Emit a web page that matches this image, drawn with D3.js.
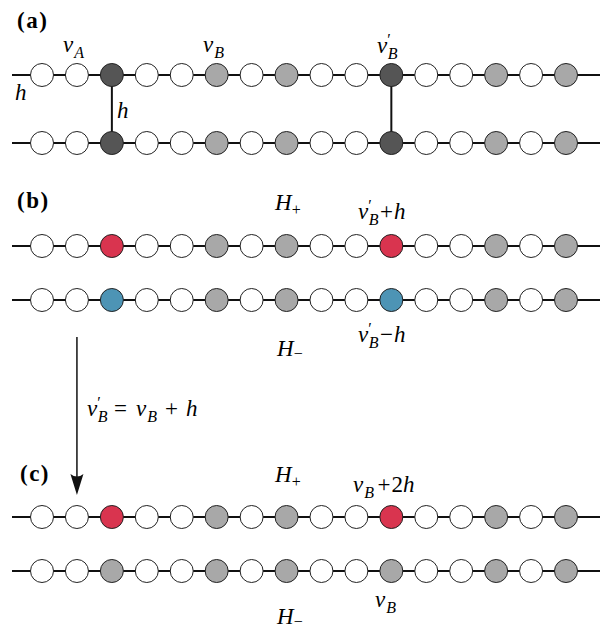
<!DOCTYPE html>
<html>
<head>
<meta charset="utf-8">
<script src="https://cdn.jsdelivr.net/npm/d3@7"></script>
<style>
  body { margin: 0; background: #fff; }
</style>
</head>
<body>
<div id="chart"></div>
<script>
// node states along each chain: w = empty, g = occupied, d = coupled, r = H+, b = H-
let rowA1 = ['w', 'w', 'd', 'w', 'w', 'g', 'w', 'g', 'w', 'w', 'd', 'w', 'w', 'g', 'w', 'g']
let rowA2 = ['w', 'w', 'd', 'w', 'w', 'g', 'w', 'g', 'w', 'w', 'd', 'w', 'w', 'g', 'w', 'g']
let rowB1 = ['w', 'w', 'r', 'w', 'w', 'g', 'w', 'g', 'w', 'w', 'r', 'w', 'w', 'g', 'w', 'g']
let rowB2 = ['w', 'w', 'b', 'w', 'w', 'g', 'w', 'g', 'w', 'w', 'b', 'w', 'w', 'g', 'w', 'g']
let rowC1 = ['w', 'w', 'r', 'w', 'w', 'g', 'w', 'g', 'w', 'w', 'r', 'w', 'w', 'g', 'w', 'g']
let rowC2 = ['w', 'w', 'g', 'w', 'w', 'g', 'w', 'g', 'w', 'w', 'g', 'w', 'w', 'g', 'w', 'g']

// vertical couplings in panel (a), by node index
let couplings = [2, 10]

let svgWidth = 600
let svgHeight = 631
let fontSize = 23
let subSize = 16

let svg = d3
  .select('#chart')
  .append('svg')
  .attr('width', svgWidth)
  .attr('height', svgHeight)
  .style('font-family', 'Liberation Serif')

let rows = [rowA1, rowA2, rowB1, rowB2, rowC1, rowC2]
let rowY = [75, 143, 246, 300, 517, 571]

let xPositionScale = d3.scaleLinear().domain([0, 15]).range([42, 566])

let colorScale = d3
  .scaleOrdinal()
  .domain(['w', 'g', 'd', 'r', 'b'])
  .range(['#ffffff', '#a8a8a8', '#555555', '#d9344f', '#4d94b5'])

// chain lines
svg
  .selectAll('.chain')
  .data(rows)
  .enter()
  .append('line')
  .attr('class', 'chain')
  .attr('x1', 12)
  .attr('x2', svgWidth)
  .attr('y1', (d, i) => rowY[i])
  .attr('y2', (d, i) => rowY[i])
  .attr('stroke', '#111')
  .attr('stroke-width', 2)

// couplings between the two chains of (a)
svg
  .selectAll('.coupling')
  .data(couplings)
  .enter()
  .append('line')
  .attr('class', 'coupling')
  .attr('x1', d => xPositionScale(d))
  .attr('x2', d => xPositionScale(d))
  .attr('y1', rowY[0])
  .attr('y2', rowY[1])
  .attr('stroke', '#111')
  .attr('stroke-width', 2)

// nodes
rows.forEach((row, i) => {
  svg
    .append('g')
    .selectAll('circle')
    .data(row)
    .enter()
    .append('circle')
    .attr('cx', (d, j) => xPositionScale(j))
    .attr('cy', rowY[i])
    .attr('r', 11.5)
    .attr('fill', d => colorScale(d))
    .attr('stroke', '#222')
    .attr('stroke-width', 1)
})

// arrow from (b) to (c)
let arrowX = xPositionScale(1)
svg
  .append('line')
  .attr('x1', arrowX)
  .attr('x2', arrowX)
  .attr('y1', 337)
  .attr('y2', 480)
  .attr('stroke', '#111')
  .attr('stroke-width', 1.5)
svg
  .append('path')
  .attr(
    'd',
    `M${arrowX},495 L${arrowX - 6.5},474 Q${arrowX},479 ${arrowX + 6.5},474 Z`
  )
  .attr('fill', '#111')

// math-ish labels built from tspans
// each part: [text, italic?, dx, dy, size]
function mathLabel(x, y, parts) {
  let t = svg
    .append('text')
    .attr('x', x)
    .attr('y', y)
    .style('font-family', 'Liberation Serif')
    .style('font-size', fontSize + 'px')
  parts.forEach(p => {
    t.append('tspan')
      .style('font-style', p[1] === 'i' ? 'italic' : 'normal')
      .style('font-size', (p[4] || fontSize) + 'px')
      .attr('dx', p[2] || 0)
      .attr('dy', p[3] || 0)
      .text(p[0])
  })
}

function panelLabel(x, y, s) {
  svg
    .append('text')
    .attr('x', x)
    .attr('y', y)
    .style('font-family', 'Liberation Serif')
    .style('font-size', '23px')
    .style('font-weight', 'bold')
    .style('letter-spacing', '1.5px')
    .text(s)
}

// v with subscript, optionally primed
function vSub(sub, prime) {
  if (prime) {
    return [
      ['v', 'i'],
      ['\u2032', 'r', 0, -8, subSize],
      ['B', 'i', -3, 14, subSize],
      [' ', 'r', -3, -6, 6]
    ]
  }
  return [
    ['v', 'i'],
    [sub, 'i', 1, 6, subSize],
    [' ', 'r', -1, -6, 6]
  ]
}

// (a)
panelLabel(17, 28, '(a)')
mathLabel(63, 52, vSub('A'))
mathLabel(203, 52, vSub('B'))
mathLabel(377, 53, vSub('B', true))
mathLabel(15, 100, [['h', 'i']])
mathLabel(117, 118, [['h', 'i']])

// (b)
panelLabel(17, 208, '(b)')
mathLabel(275, 210, [['H', 'i'], ['+', 'r', 0, 5, subSize]])
mathLabel(358, 219, vSub('B', true).concat([['+', 'r', 3], ['h', 'i', 1]]))
mathLabel(358, 342, vSub('B', true).concat([['\u2212', 'r', 3], ['h', 'i', 1]]))
mathLabel(277, 356, [['H', 'i'], ['\u2212', 'r', 0, 3, subSize]])

// arrow label
mathLabel(
  87,
  416,
  vSub('B', true).concat([
    ['=', 'r', 8],
    ['v', 'i', 9],
    ['B', 'i', 1, 6, subSize],
    ['+', 'r', 8, -6],
    ['h', 'i', 8]
  ])
)

// (c)
panelLabel(20, 481, '(c)')
mathLabel(275, 482, [['H', 'i'], ['+', 'r', 0, 5, subSize]])
mathLabel(353, 492, vSub('B').concat([['+', 'r', 3], ['2', 'r', 1], ['h', 'i']]))
mathLabel(375, 607, vSub('B'))
mathLabel(277, 624, [['H', 'i'], ['\u2212', 'r', 0, 3, subSize]])
</script>
</body>
</html>
